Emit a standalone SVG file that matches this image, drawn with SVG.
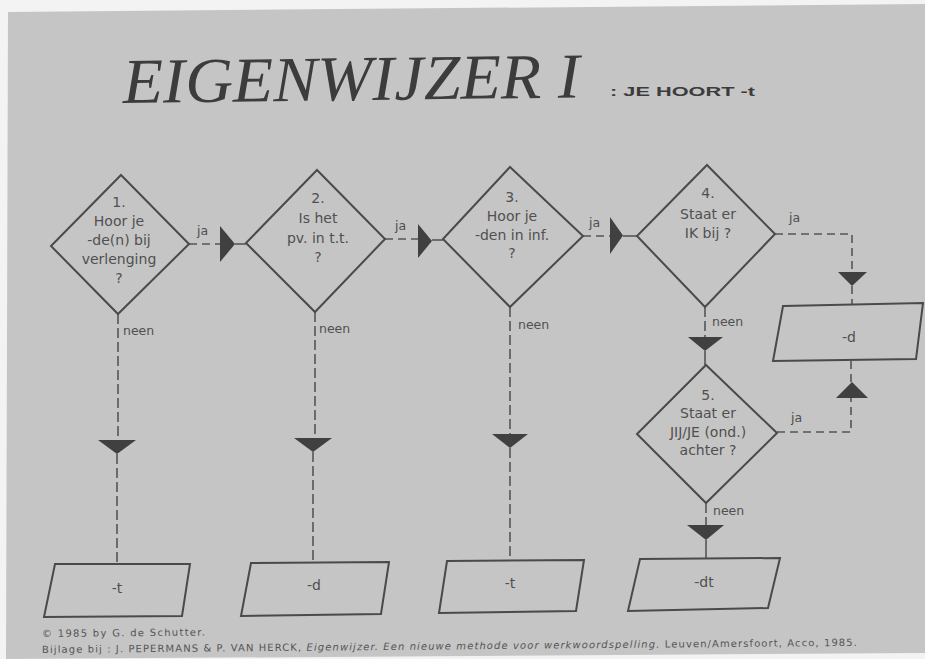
<svg xmlns="http://www.w3.org/2000/svg" width="925" height="659" viewBox="0 0 925 659">
<style>
.page{fill:#f3f3f3}
.card{fill:#c5c5c5}
.shape{fill:none;stroke:#4a4a4a;stroke-width:2;stroke-linejoin:miter}
.t{font-family:"DejaVu Sans","Liberation Sans",sans-serif;font-size:14px;fill:#505050;text-anchor:middle}
.lbl{font-family:"DejaVu Sans","Liberation Sans",sans-serif;font-size:12.5px;fill:#505050}
.dash{fill:none;stroke:#555;stroke-width:1.6;stroke-dasharray:10 4}
.hdash{fill:none;stroke:#555;stroke-width:1.6;stroke-dasharray:8 5}
.solid{fill:none;stroke:#555;stroke-width:1.6}
.arr{fill:#404040}
.foot{font-family:"DejaVu Sans","Liberation Sans",sans-serif;font-size:10px;fill:#555}
</style>
<rect class="page" x="0" y="0" width="925" height="659"/>
<polygon class="card" points="8,12 925,4 925,653 6,659"/>

<g id="title">
<text x="123" y="103" transform="rotate(-0.7 123 103)" font-family="'Liberation Serif',serif" font-style="italic" font-size="64" fill="#3c3c3c" textLength="457" lengthAdjust="spacingAndGlyphs">EIGENWIJZER I</text>
<text x="610" y="96" font-family="'Liberation Sans',sans-serif" font-weight="bold" font-size="12" fill="#3c3c3c" textLength="145" lengthAdjust="spacingAndGlyphs">:  JE HOORT -t</text>
</g>

<g id="connectors">
<path class="hdash" d="M189,244 H221"/>
<polygon class="arr" points="220,226 220,262 235,244"/>
<path class="solid" d="M235,244 H246"/>

<path class="hdash" d="M385,239 H418"/>
<polygon class="arr" points="418,224 418,258 432,241"/>
<path class="solid" d="M432,240 H443"/>

<path class="hdash" d="M583,236 H610"/>
<polygon class="arr" points="610,217 610,254 623,235.5"/>
<path class="solid" d="M623,236 H637"/>

<path class="hdash" d="M775,234 H852 V272"/>
<polygon class="arr" points="838,272 867,272 852,286"/>
<path class="hdash" d="M852,286 V305"/>

<path class="hdash" d="M777,432 H851 V398"/>
<polygon class="arr" points="836,398 868,398 852,382"/>
<path class="hdash" d="M851,382 V361"/>

<path class="dash" d="M118,314 V440"/>
<polygon class="arr" points="98,440 136,440 117,454"/>
<path class="dash" d="M117,454 V564"/>

<path class="dash" d="M315,312 V438"/>
<polygon class="arr" points="294,438 332,438 313,452"/>
<path class="dash" d="M313,452 V563"/>

<path class="dash" d="M510,307 V434"/>
<polygon class="arr" points="492,434 528,434 510,448"/>
<path class="dash" d="M510,448 V561"/>

<path class="dash" d="M705,307 V337"/>
<polygon class="arr" points="688,337 723,337 705,351"/>
<path class="solid" d="M705,351 V365"/>

<path class="dash" d="M706,503 V525"/>
<polygon class="arr" points="687,525 724,525 706,540"/>
<path class="solid" d="M706,540 V559"/>

<text class="lbl" x="197" y="235">ja</text>
<text class="lbl" x="395" y="230">ja</text>
<text class="lbl" x="589" y="227">ja</text>
<text class="lbl" x="789" y="222">ja</text>
<text class="lbl" x="791" y="422">ja</text>
<text class="lbl" x="123" y="335">neen</text>
<text class="lbl" x="319" y="333">neen</text>
<text class="lbl" x="518" y="329">neen</text>
<text class="lbl" x="712" y="326">neen</text>
<text class="lbl" x="713" y="515">neen</text>
</g>

<g id="q1">
<polygon class="shape" points="121,175 189,244 118,314 51,246"/>
<text class="t" x="119" y="207">1.</text>
<text class="t" x="119" y="226">Hoor je</text>
<text class="t" x="119" y="245">-de(n) bij</text>
<text class="t" x="119" y="264">verlenging</text>
<text class="t" x="119" y="283">?</text>
</g>
<g id="q2">
<polygon class="shape" points="317,170 385,239 315,312 246,243"/>
<text class="t" x="318" y="203">2.</text>
<text class="t" x="318" y="223">Is het</text>
<text class="t" x="318" y="243">pv. in t.t.</text>
<text class="t" x="318" y="262">?</text>
</g>
<g id="q3">
<polygon class="shape" points="510,167 583,236 510,307 443,239"/>
<text class="t" x="512" y="202">3.</text>
<text class="t" x="512" y="221">Hoor je</text>
<text class="t" x="512" y="240">-den in inf.</text>
<text class="t" x="512" y="258">?</text>
</g>
<g id="q4">
<polygon class="shape" points="707,165 775,234 705,307 637,236"/>
<text class="t" x="708" y="198">4.</text>
<text class="t" x="708" y="219">Staat er</text>
<text class="t" x="708" y="238">IK bij ?</text>
</g>
<g id="q5">
<polygon class="shape" points="706,365 777,433 706,503 637,434"/>
<text class="t" x="708" y="400">5.</text>
<text class="t" x="708" y="418">Staat er</text>
<text class="t" x="708" y="437">JIJ/JE (ond.)</text>
<text class="t" x="708" y="455">achter ?</text>
</g>

<g id="r1">
<polygon class="shape" points="55,564 190,564 182,616 44,617"/>
<text class="t" x="117" y="593">-t</text>
</g>
<g id="r2">
<polygon class="shape" points="251,563 389,562 381,614 241,616"/>
<text class="t" x="314" y="590">-d</text>
</g>
<g id="r3">
<polygon class="shape" points="447,561 584,560 576,611 439,613"/>
<text class="t" x="510" y="588">-t</text>
</g>
<g id="r4">
<polygon class="shape" points="640,559 780,558 768,608 628,611"/>
<text class="t" x="704" y="587">-dt</text>
</g>
<g id="r5">
<polygon class="shape" points="783,306 923,303 916,359 773,361"/>
<text class="t" x="849" y="342">-d</text>
</g>

<g id="footer">
<text class="foot" x="42" y="637" transform="rotate(-0.5 42 637)" textLength="163" lengthAdjust="spacing">© 1985 by G. de Schutter.</text>
<text class="foot" x="42" y="653" transform="rotate(-0.5 42 653)" textLength="815" lengthAdjust="spacing">Bijlage bij : J. PEPERMANS &amp; P. VAN HERCK, <tspan font-style="italic">Eigenwijzer. Een nieuwe methode voor werkwoordspelling.</tspan> Leuven/Amersfoort, Acco, 1985.</text>
</g>
</svg>
